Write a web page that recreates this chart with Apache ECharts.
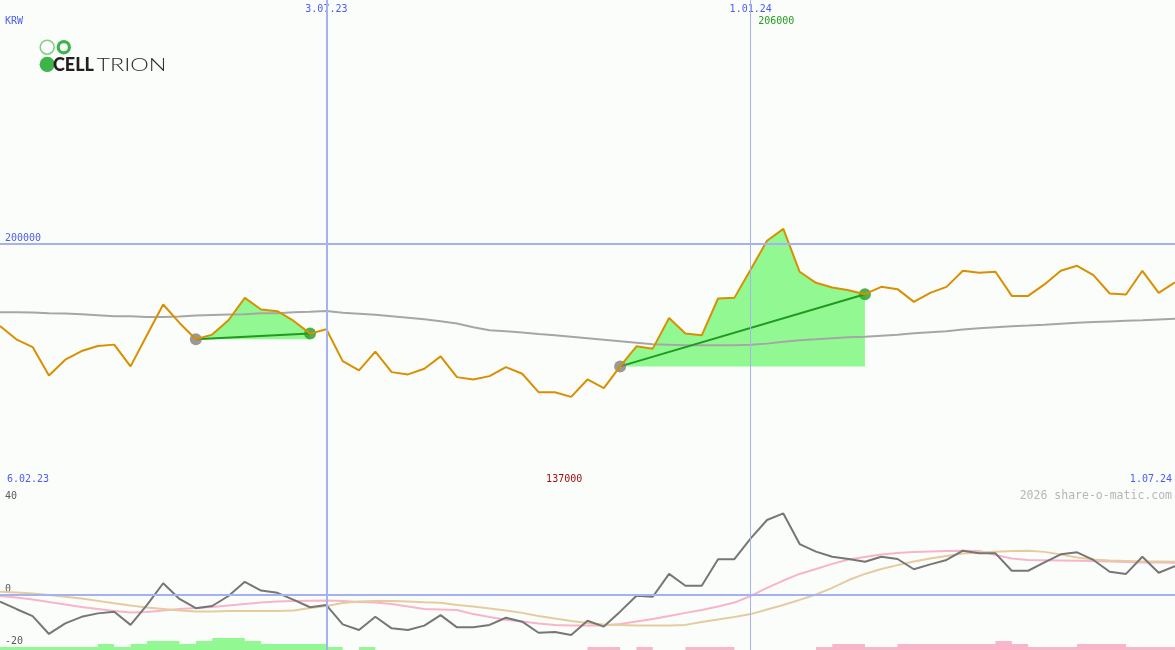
<!DOCTYPE html>
<html>
<head>
<meta charset="utf-8">
<script src="https://cdn.jsdelivr.net/npm/echarts@6/dist/echarts.min.js"></script>
<style>
html,body{margin:0;padding:0;background:#fbfdfb;}
#chart{width:1175px;height:650px;}
</style>
</head>
<body>
<div id="chart"></div>
<script>
// ---------- data ----------
const firstWeek = [2023, 1, 13];          // first weekly point (13.02.23)
const weekCount = 73;
const rangeLabels = ['6.02.23', '1.07.24'];
const currency = 'KRW';
const brandBold = 'CELL';
const brandLight = 'TRION';
const copyright = '2026 share-o-matic.com';
const dateMarks = ['3.07.23', '1.01.24'];
const priceTicks = [200000];
const oscTicks = [40, 0, -20];

const price = [166100,160650,157480,145820,152290,155830,157890,158470,149530,162300,
  174950,167370,160650,162590,168480,177670,172890,172190,168190,163000,
  164770,151710,147880,155590,147180,146230,148580,153650,145120,144170,
  145530,149240,146520,138940,138940,137000,144170,140590,149530,157770,
  156820,169430,163000,162300,177420,177670,189370,201150,206000,188380,
  183850,181950,180840,179190,182200,181250,176020,179730,182200,188790,
  187970,188380,178490,178490,183190,188790,190850,187020,179480,179070,
  188790,179730,184010];

const movingAvg = [171780,171780,171700,171370,171300,170950,170540,170130,170130,169840,
  169840,170000,170400,170600,170800,170950,171370,171370,171780,172000,
  172300,171570,171160,170750,170130,169510,168890,168070,167120,165600,
  164380,163970,163420,162840,162300,161680,161070,160450,159830,159210,
  158590,158390,158180,158180,158180,158180,158390,158880,159620,160240,
  160650,161070,161480,161680,162100,162510,163130,163540,163950,164690,
  165190,165600,166010,166300,166630,167040,167460,167740,167990,168240,
  168480,168810,169140];

const oscillator = [-2.7,-5.7,-8.6,-15.9,-11.6,-8.9,-7.5,-6.8,-12.2,-4.1,
  4.8,-1.6,-5.4,-4.5,-0.4,5.4,1.8,0.9,-2.0,-5.0,
  -4.1,-12.0,-14.3,-8.9,-13.6,-14.3,-12.5,-8.2,-13.2,-13.2,
  -12.2,-9.3,-10.9,-15.4,-15.1,-16.3,-10.5,-12.9,-6.8,-0.3,
  -0.7,8.6,3.8,3.8,14.6,14.6,23.1,30.6,33.3,20.8,
  17.7,15.6,14.7,13.6,15.6,14.7,10.5,12.5,14.3,18.1,
  17.0,17.0,9.9,9.9,13.3,16.6,17.4,14.3,9.5,8.6,
  15.6,9.1,11.8];

const signalFast = [-0.4,-1.0,-1.8,-2.9,-3.9,-4.9,-5.7,-6.5,-7.1,-6.9,
  -6.3,-5.7,-5.3,-4.9,-4.3,-3.7,-3.1,-2.7,-2.4,-2.3,
  -2.2,-2.4,-2.9,-3.1,-3.7,-4.7,-5.7,-5.9,-6.1,-7.8,
  -9.0,-10.1,-10.8,-11.6,-12.2,-12.5,-12.5,-12.4,-11.8,-10.8,
  -9.8,-8.6,-7.3,-6.1,-4.7,-3.1,-0.4,2.9,5.9,8.6,
  10.6,12.7,14.5,15.5,16.5,17.1,17.6,17.8,18.0,18.1,
  18.0,16.3,14.9,14.3,14.2,14.1,14.0,13.9,13.7,13.5,
  13.3,13.3,13.2];

const signalSlow = [1.3,1.0,0.6,0.0,-0.7,-1.4,-2.4,-3.4,-4.3,-5.1,
  -5.7,-6.3,-6.7,-6.7,-6.5,-6.5,-6.5,-6.5,-6.3,-5.3,
  -4.5,-3.3,-2.7,-2.4,-2.4,-2.7,-3.0,-3.2,-4.1,-4.7,
  -5.5,-6.3,-7.3,-8.6,-9.6,-10.6,-11.4,-12.0,-12.2,-12.4,
  -12.5,-12.5,-12.2,-11.0,-10.0,-9.0,-7.8,-5.9,-4.1,-2.0,
  0.2,2.9,6.1,8.6,10.6,12.2,13.7,14.9,15.9,16.9,
  17.3,17.7,18.0,18.1,17.6,16.5,15.3,14.5,14.1,13.9,
  13.7,13.7,13.6];

const histogram = [1,1,1,1,1,1,2,1,2,3,
  3,2,3,4,4,3,2,2,2,2,
  1,0,1,0,0,0,0,0,0,0,
  0,0,0,0,0,0,-1,-1,0,-1,
  0,0,-1,-1,-1,0,0,0,0,0,
  -1,-2,-2,-1,-1,-2,-2,-2,-2,-2,
  -2,-3,-2,-1,-1,-1,-2,-2,-2,-1,
  -1,-1,-1];

const zoneStart = [12, 38];
const zoneEnd = [19, 53];

// ---------- derived ----------
const dates = [];
for (let i = 0; i < weekCount; i++) {
  const d = new Date(Date.UTC(firstWeek[0], firstWeek[1], firstWeek[2] + 7 * i));
  dates.push(d.getUTCDate() + '.' + String(d.getUTCMonth() + 1).padStart(2, '0') + '.' + String(d.getUTCFullYear()).slice(2));
}
const histUp = histogram.map(v => v > 0 ? v : 0);
const histDown = histogram.map(v => v < 0 ? -v : 0);

const MONO = "'DejaVu Sans Mono', monospace";
const BLUE_TXT = '#4a5cf4';
const LINE_BLUE = '#a4b2f2';

const trendSeries = zoneStart.map((s, k) => ({
  type: 'line', xAxisIndex: 0, yAxisIndex: 0, z: 3,
  data: price.map((v, i) => (i === s || i === zoneEnd[k]) ? v : null),
  connectNulls: true, symbol: 'none', silent: true,
  lineStyle: { color: '#1f9a1f', width: 2 }
}));

const oscLabelStyle = { color: '#5a5a5a', fontFamily: MONO, fontSize: 10 };

const chart = echarts.init(document.getElementById('chart'), null, { renderer: 'canvas' });

const option = {
  backgroundColor: '#fbfdfb',
  animation: false,
  grid: [
    { left: 0, right: 0, top: 0, height: 487 },
    { left: 0, right: 0, top: 487, height: 163 }
  ],
  xAxis: [
    { type: 'category', gridIndex: 0, data: dates, boundaryGap: false, position: 'top',
      axisLine: { show: false }, axisTick: { show: false }, splitLine: { show: false },
      axisLabel: { inside: true, margin: 4, color: BLUE_TXT, fontFamily: MONO, fontSize: 10,
        verticalAlign: 'top',
        interval: (i, v) => dateMarks.indexOf(v) >= 0 } },
    { type: 'category', gridIndex: 1, data: dates, boundaryGap: false, position: 'top',
      axisLine: { show: true, lineStyle: { color: '#7484f0', width: 2 } },
      axisTick: { show: false }, axisLabel: { show: false }, splitLine: { show: false } }
  ],
  yAxis: [
    { type: 'value', gridIndex: 0, min: 100000, max: 300000, position: 'left',
      splitLine: { show: false }, axisLine: { show: false }, axisTick: { show: false },
      axisLabel: { inside: true, margin: 5, customValues: priceTicks, color: BLUE_TXT,
        formatter: v => String(v),
        fontFamily: MONO, fontSize: 10, verticalAlign: 'bottom' } },
    { type: 'value', gridIndex: 1, min: -22.45, max: 44.08, position: 'left',
      splitLine: { show: false }, axisLine: { show: false }, axisTick: { show: false },
      axisLabel: { inside: true, margin: 5, customValues: oscTicks,
        verticalAlign: 'middle',
        formatter: v => (v > 0 ? '{hi|' : v < 0 ? '{lo|' : '{mid|') + v + '}',
        rich: {
          hi: Object.assign({ padding: [0, 0, 1, 0] }, oscLabelStyle),
          mid: Object.assign({ padding: [0, 0, 12, 0] }, oscLabelStyle),
          lo: Object.assign({ padding: [0, 0, 5, 0] }, oscLabelStyle)
        } } },
    { type: 'value', gridIndex: 1, min: 0, max: 163 / 3, show: false }
  ],
  series: [
    {
      type: 'custom', xAxisIndex: 0, yAxisIndex: 0, z: 1, silent: true,
      data: zoneStart.map((s, k) => [s, zoneEnd[k]]),
      renderItem: function (params, api) {
        const s = api.value(0), e = api.value(1);
        const base = price[s];
        const pts = [];
        for (let i = s; i <= e; i++) pts.push(api.coord([i, price[i]]));
        pts.push(api.coord([e, base]));
        pts.push(api.coord([s, base]));
        return { type: 'polygon', shape: { points: pts }, style: { fill: '#92f992' } };
      },
      markLine: {
        silent: true, symbol: 'none', label: { show: false },
        data: [
          { yAxis: priceTicks[0], lineStyle: { color: LINE_BLUE, width: 2, type: 'solid' } },
          { xAxis: dateMarks[0], lineStyle: { color: LINE_BLUE, width: 2, type: 'solid' } },
          { xAxis: dateMarks[1], lineStyle: { color: '#a8b2ea', width: 1, type: 'solid' } }
        ]
      }
    },
    { type: 'line', xAxisIndex: 0, yAxisIndex: 0, z: 2, data: movingAvg, symbol: 'none', silent: true,
      lineStyle: { color: '#a6a6a6', width: 2 } },
    ...trendSeries,
    { type: 'scatter', xAxisIndex: 0, yAxisIndex: 0, z: 3, silent: true, symbolSize: 12,
      itemStyle: { color: '#808080' },
      data: zoneStart.map(s => [s, price[s]]) },
    { type: 'scatter', xAxisIndex: 0, yAxisIndex: 0, z: 3, silent: true, symbolSize: 12,
      itemStyle: { color: '#249c24' },
      data: zoneEnd.map(s => [s, price[s]]) },
    { type: 'line', xAxisIndex: 0, yAxisIndex: 0, z: 4, data: price, symbol: 'none', silent: true,
      lineStyle: { color: '#d89000', width: 2 } },

    // lower panel
    { type: 'line', xAxisIndex: 1, yAxisIndex: 2, z: 1, data: histUp, step: 'end', symbol: 'none', silent: true,
      lineStyle: { width: 0, opacity: 0 }, areaStyle: { color: '#92f992', opacity: 1 } },
    { type: 'line', xAxisIndex: 1, yAxisIndex: 2, z: 1, data: histDown, step: 'end', symbol: 'none', silent: true,
      lineStyle: { width: 0, opacity: 0 }, areaStyle: { color: '#f9b6ca', opacity: 1 },
      markLine: {
        silent: true, symbol: 'none', label: { show: false },
        data: [
          { xAxis: dateMarks[0], lineStyle: { color: LINE_BLUE, width: 2, type: 'solid' } },
          { xAxis: dateMarks[1], lineStyle: { color: '#a8b2ea', width: 1, type: 'solid' } }
        ]
      } },
    { type: 'line', xAxisIndex: 1, yAxisIndex: 1, z: 2, data: signalFast, symbol: 'none', silent: true,
      lineStyle: { color: '#f8b4c8', width: 2 },
      markLine: {
        silent: true, symbol: 'none', label: { show: false },
        data: [{ yAxis: 0, lineStyle: { color: LINE_BLUE, width: 2, type: 'solid' } }]
      } },
    { type: 'line', xAxisIndex: 1, yAxisIndex: 1, z: 3, data: signalSlow, symbol: 'none', silent: true,
      lineStyle: { color: '#e4cca0', width: 2 } },
    { type: 'line', xAxisIndex: 1, yAxisIndex: 1, z: 4, data: oscillator, symbol: 'none', silent: true,
      lineStyle: { color: '#767676', width: 2 } }
  ]
};
chart.setOption(option);

// labels tied to the extremes of the price series, placed through the axes
const maxVal = Math.max(...price), minVal = Math.min(...price);
const maxIdx = price.indexOf(maxVal), minIdx = price.indexOf(minVal);
const maxX = chart.convertToPixel({ gridIndex: 0 }, [maxIdx, maxVal])[0];
const minX = chart.convertToPixel({ gridIndex: 0 }, [minIdx, minVal])[0];

chart.setOption({
  graphic: [
    { type: 'text', x: 5, y: 21, silent: true,
      style: { text: currency, fill: BLUE_TXT, font: '10px ' + MONO, textVerticalAlign: 'middle' } },
    { type: 'text', x: maxX - 7, y: 21, silent: true,
      style: { text: String(maxVal), fill: '#22a022', font: '10px ' + MONO, textAlign: 'center', textVerticalAlign: 'middle' } },
    { type: 'text', x: minX - 7, y: 479, silent: true,
      style: { text: String(minVal), fill: '#a01010', font: '10px ' + MONO, textAlign: 'center', textVerticalAlign: 'middle' } },
    { type: 'text', x: 7, y: 479, silent: true,
      style: { text: rangeLabels[0], fill: BLUE_TXT, font: '10px ' + MONO, textVerticalAlign: 'middle' } },
    { type: 'text', x: 1172, y: 479, silent: true,
      style: { text: rangeLabels[1], fill: BLUE_TXT, font: '10px ' + MONO, textAlign: 'right', textVerticalAlign: 'middle' } },
    { type: 'text', x: 1172, y: 496, silent: true,
      style: { text: copyright, fill: '#b6b6b6', font: '11.5px ' + MONO, textAlign: 'right', textVerticalAlign: 'middle' } },
    // logo
    { type: 'circle', silent: true, shape: { cx: 47.2, cy: 47.2, r: 7 },
      style: { fill: 'none', stroke: '#86cc86', lineWidth: 1.6 } },
    { type: 'circle', silent: true, shape: { cx: 63.8, cy: 47.2, r: 5.6 },
      style: { fill: 'none', stroke: '#3db44a', lineWidth: 3.2 } },
    { type: 'circle', silent: true, shape: { cx: 47.2, cy: 64.3, r: 7.6 },
      style: { fill: '#3db44a' } },
    { type: 'text', x: 53, y: 65, silent: true,
      style: { text: brandBold, fill: '#231f20', font: '900 18px Lato', textVerticalAlign: 'middle' } },
    { type: 'text', x: 96.5, y: 65, silent: true, scaleX: 1.3, originX: 0,
      style: { text: brandLight, fill: '#2a2a2a', font: '300 18px Lato', textVerticalAlign: 'middle' } }
  ]
});
</script>
</body>
</html>
